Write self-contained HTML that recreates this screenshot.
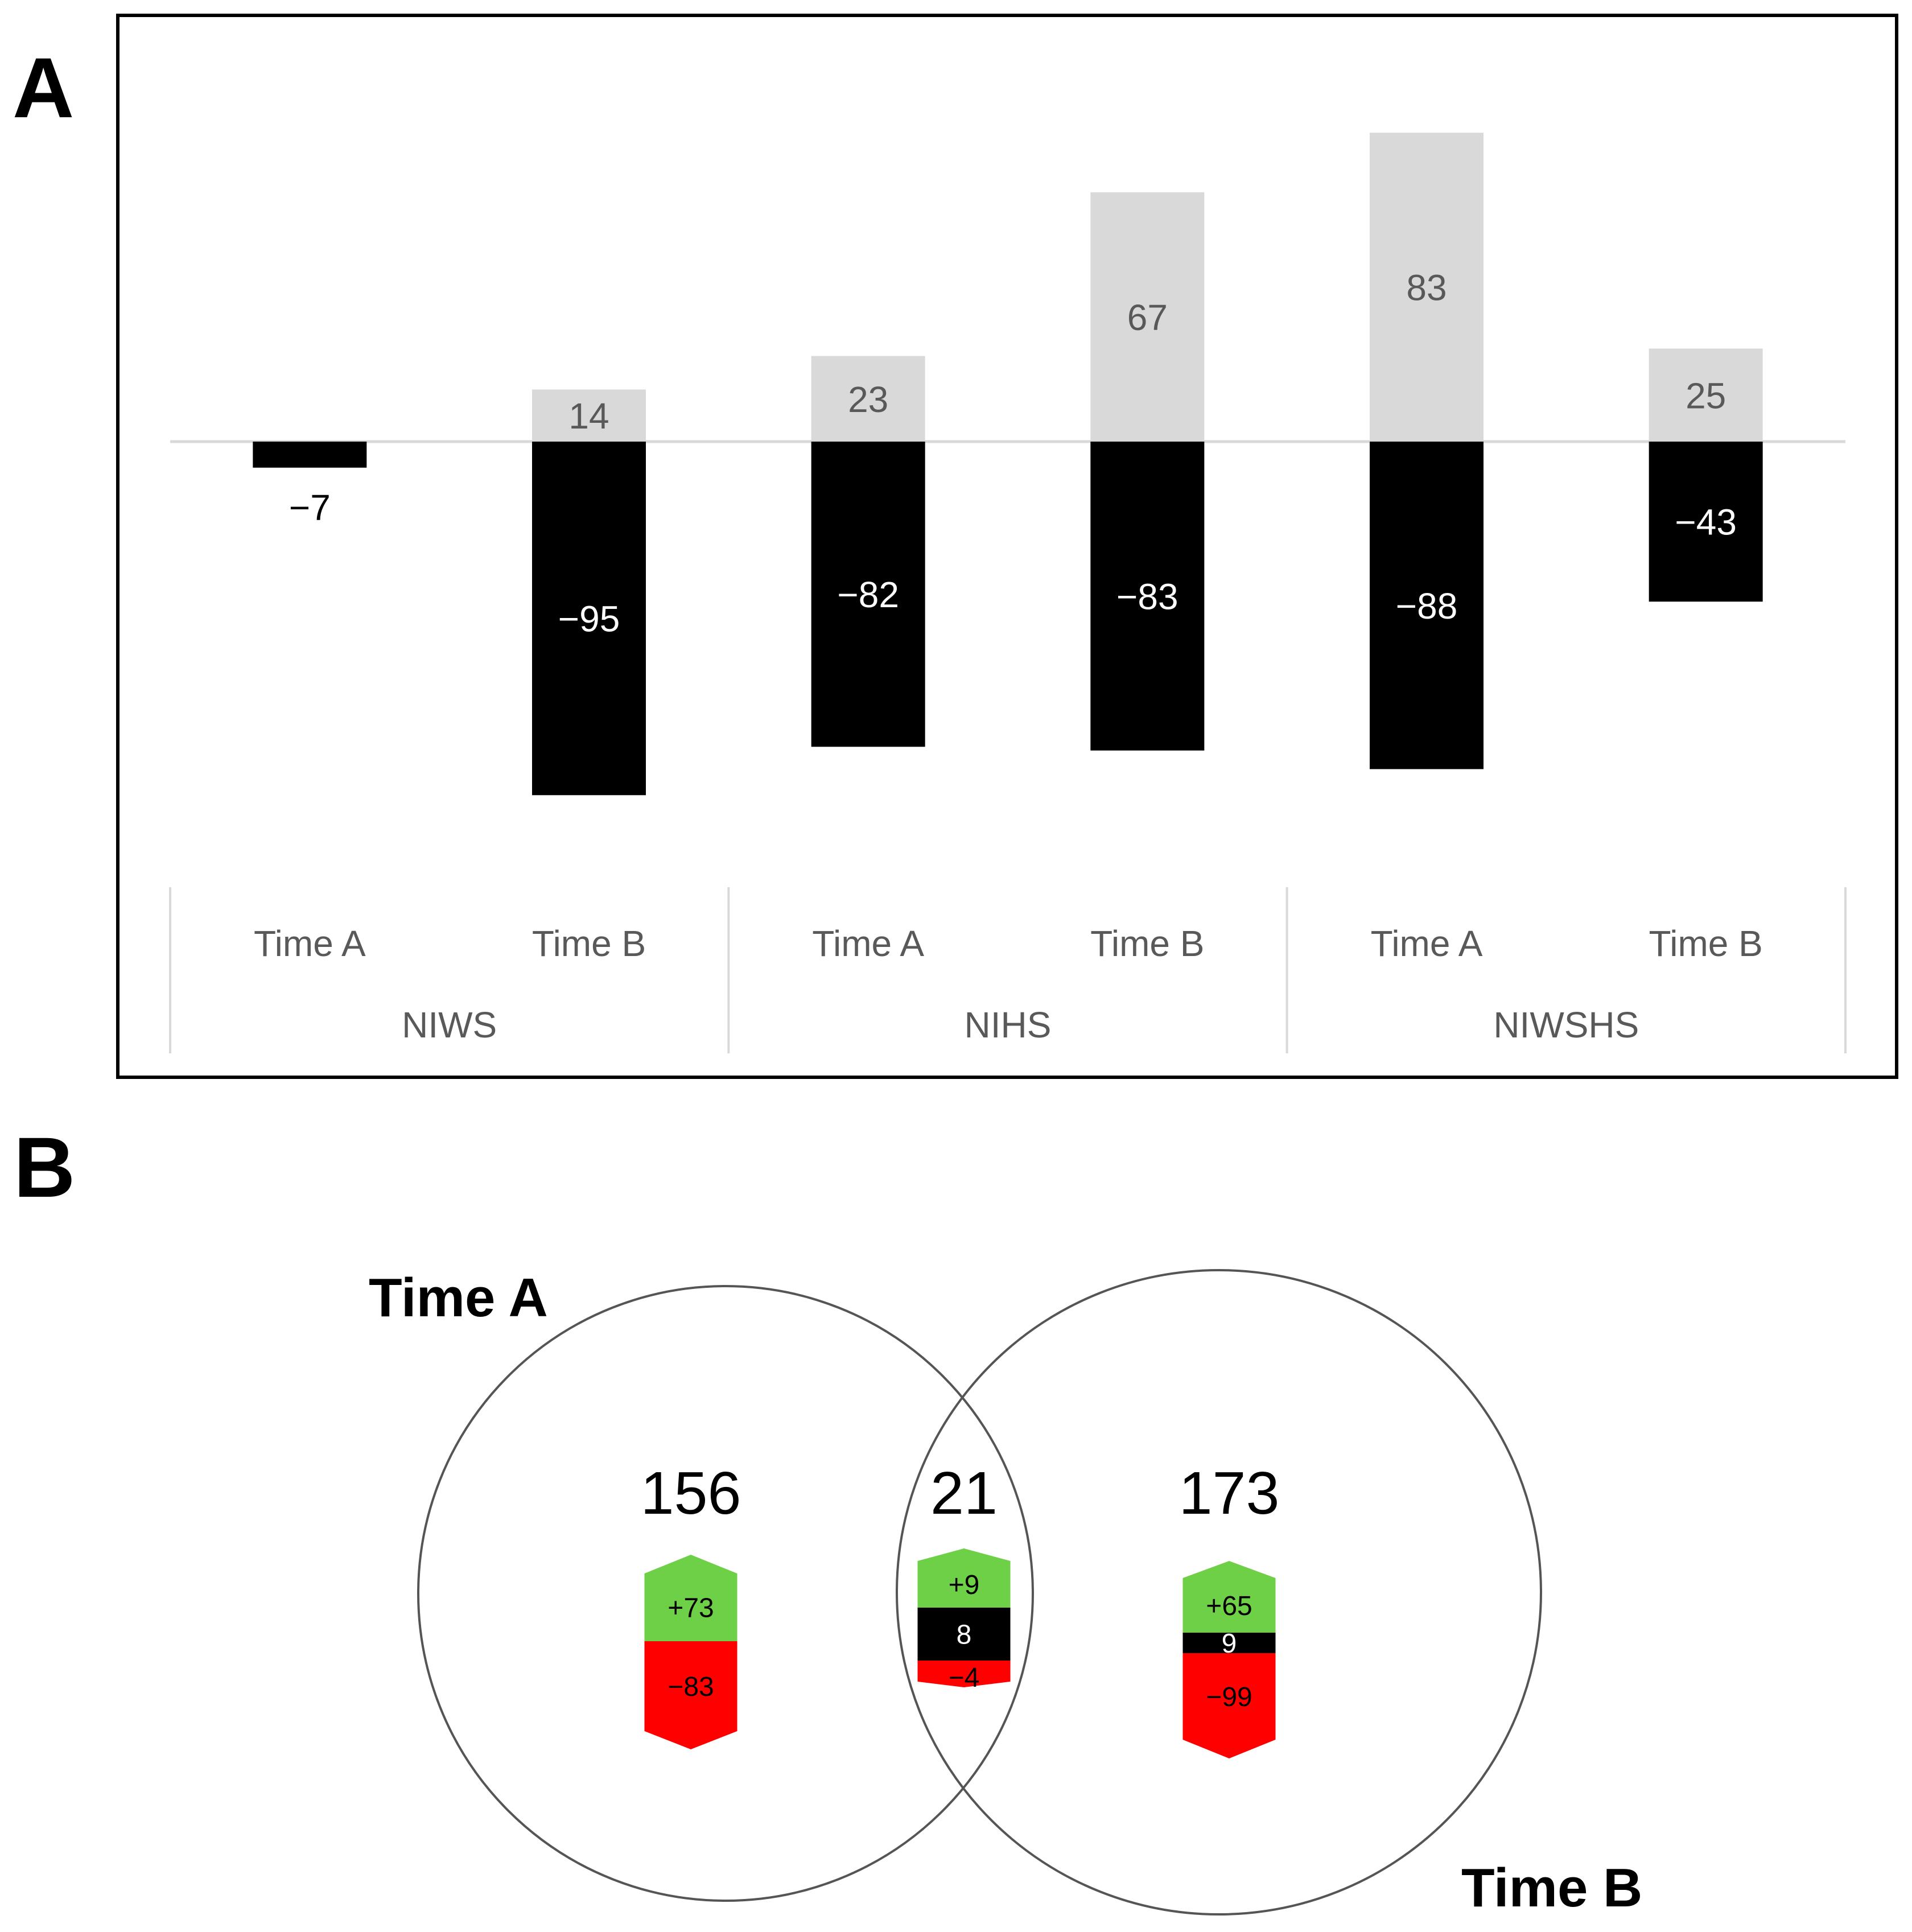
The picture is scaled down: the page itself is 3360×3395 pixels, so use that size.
<!DOCTYPE html>
<html>
<head>
<meta charset="utf-8">
<style>
  html,body{margin:0;padding:0;background:#fff;}
  svg{display:block;}
  text{font-family:"Liberation Sans",sans-serif;}
</style>
</head>
<body>
<svg id="fig" width="3360" height="3395" viewBox="0 0 3360 3395" xmlns="http://www.w3.org/2000/svg">
  <text x="22" y="206" font-size="150" font-weight="bold">A</text>
  <rect x="207" y="27" width="3126" height="1866" fill="none" stroke="#000" stroke-width="6"/>
  <g id="chartA"></g>
  <text x="24" y="2103" font-size="150" font-weight="bold">B</text>
  <g id="venn"></g>
</svg>
<script>
// ---- Panel A data ----
const categories = ["Time A","Time B","Time A","Time B","Time A","Time B"];
const groups = ["NIWS","NIHS","NIWSHS"];
const positiveValues = [0, 14, 23, 67, 83, 25];
const negativeValues = [-7, -95, -82, -83, -88, -43];

// ---- Panel B data ----
const vennTotals = [156, 21, 173];
const vennUp = [73, 9, 65];
const vennBoth = [0, 8, 9];
const vennDown = [-83, -4, -99];

const NS = "http://www.w3.org/2000/svg";
function mk(tag, attrs, parent){
  const e = document.createElementNS(NS, tag);
  for (const k in attrs) e.setAttribute(k, attrs[k]);
  parent.appendChild(e);
  return e;
}

// axis functions
const plotLeft = 299, plotRight = 3243, zeroY = 776, unit = 6.54;
const slot = (plotRight - plotLeft) / categories.length;
const xCenter = i => plotLeft + slot * (i + 0.5);
const yScale = v => zeroY - v * unit;
const barW = 200;

const gA = document.getElementById("chartA");
const zl = mk("line", {x1: plotLeft, x2: plotRight, y1: zeroY, y2: zeroY, stroke: "#d9d9d9", "stroke-width": 5}, gA);



categories.forEach((c, i) => {
  const cx = xCenter(i);
  const p = positiveValues[i];
  if (p > 0) {
    const r = mk("rect", {x: cx - barW/2, y: yScale(p), width: barW, height: zeroY - yScale(p), fill: "#d9d9d9"}, gA);
    
    
    const t = mk("text", {x: cx, y: (yScale(p) + zeroY)/2 + 23, "text-anchor": "middle", "font-size": 64, fill: "#595959"}, gA);
    t.textContent = String(p);
    
    
  }
  const n = negativeValues[i];
  const r2 = mk("rect", {x: cx - barW/2, y: zeroY, width: barW, height: yScale(n) - zeroY, fill: "#000"}, gA);
  
  
  const inside = Math.abs(n) > 15;
  const ly = inside ? (zeroY + yScale(n))/2 + 23 : yScale(n) + 92;
  const t2 = mk("text", {x: cx, y: ly, "text-anchor": "middle", "font-size": 64, fill: inside ? "#fff" : "#000"}, gA);
  t2.textContent = "\u2212" + Math.abs(n);
  
  
  const ct = mk("text", {x: cx, y: 1680, "text-anchor": "middle", "font-size": 64, fill: "#595959"}, gA);
  ct.textContent = c;
  
  
});
groups.forEach((g, j) => {
  const x0 = plotLeft + slot * 2 * j;
  const gt = mk("text", {x: x0 + slot, y: 1823, "text-anchor": "middle", "font-size": 64, fill: "#595959"}, gA);
  gt.textContent = g;
  
  
});
for (let j = 0; j <= groups.length; j++) {
  const x = plotLeft + slot * 2 * j;
  const sl = mk("line", {x1: x, x2: x, y1: 1559, y2: 1851, stroke: "#d9d9d9", "stroke-width": 4}, gA);
  
  
}

// ---- Venn ----
const gB = document.getElementById("venn");
const c1 = mk("circle", {cx: 1275, cy: 2800, r: 540, fill: "none", stroke: "#555", "stroke-width": 4}, gB);


const c2 = mk("circle", {cx: 2142, cy: 2798, r: 566, fill: "none", stroke: "#555", "stroke-width": 4}, gB);


const ta = mk("text", {x: 648, y: 2313, "font-size": 96, "font-weight": "bold"}, gB);
ta.textContent = "Time A";


const tb = mk("text", {x: 2568, y: 3350, "font-size": 96, "font-weight": "bold"}, gB);
tb.textContent = "Time B";



// badge layout geometry (not data): [topTip, topShoulder, greenEnd, blackEnd, redShoulder, bottomTip]
const badgeGeom = [
  [2732, 2765, 2884, 2884, 3042, 3074],
  [2721, 2743, 2825, 2918, 2955, 2965],
  [2743, 2773, 2869, 2905, 3057, 3090]
];
const bCenters = [1214, 1694, 2160];
const bW = 163;
vennTotals.forEach((tot, i) => {
  const cx = bCenters[i];
  const tt = mk("text", {x: cx, y: 2660, "text-anchor": "middle", "font-size": 106}, gB);
  tt.textContent = String(tot);
  
  
  const L = cx - bW/2, R = cx + bW/2;
  const [tTip, tSh, y1, y2, bSh, bTip] = badgeGeom[i];
  const gp = mk("polygon", {points: `${L},${y1} ${L},${tSh} ${cx},${tTip} ${R},${tSh} ${R},${y1}`, fill: "#6dd046"}, gB);
  
  
  const gt = mk("text", {x: cx, y: (tSh + y1)/2 + 17, "text-anchor": "middle", "font-size": 48}, gB);
  gt.textContent = "+" + vennUp[i];
  
  
  if (vennBoth[i] > 0) {
    const bk = mk("rect", {x: L, y: y1, width: bW, height: y2 - y1, fill: "#000"}, gB);
    
    
    const bt = mk("text", {x: cx, y: (y1 + y2)/2 + 17, "text-anchor": "middle", "font-size": 48, fill: "#fff"}, gB);
    bt.textContent = String(vennBoth[i]);
    
    
  }
  const rp = mk("polygon", {points: `${L},${y2} ${R},${y2} ${R},${bSh} ${cx},${bTip} ${L},${bSh}`, fill: "#ff0000"}, gB);
  
  
  const rt = mk("text", {x: cx, y: i === 1 ? 2964 : (y2 + bSh)/2 + 17, "text-anchor": "middle", "font-size": 48}, gB);
  rt.textContent = "\u2212" + Math.abs(vennDown[i]);
  
  
});
</script>
</body>
</html>
